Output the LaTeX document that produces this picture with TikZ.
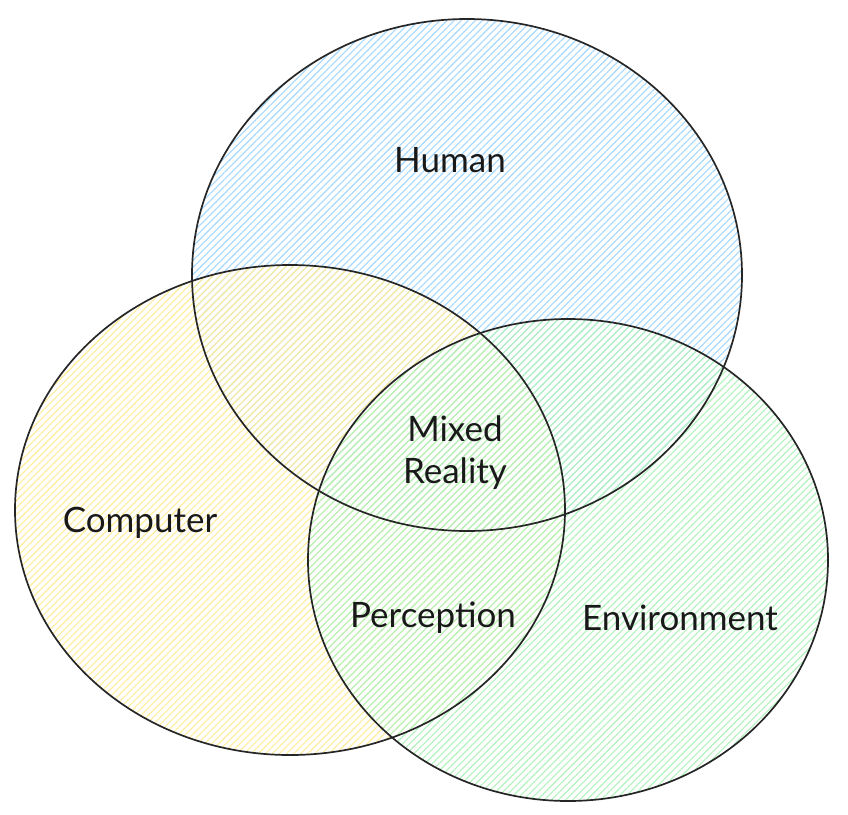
\documentclass[tikz,border=0pt]{standalone}
\usepackage{fontspec}
\setmainfont{Lato}
\usetikzlibrary{patterns.meta}

\definecolor{humanblue}{HTML}{A5D8FF}
\definecolor{compyellow}{HTML}{FFEC99}
\definecolor{envgreen}{HTML}{B2F2BB}

\tikzset{
  hachure/.style={pattern={Lines[angle=45,distance=5pt,line width=1.1pt]}, pattern color=#1},
  rim/.style={draw=black!85, line width=1.7pt},
  tag/.style={font=\fontsize{35}{42}\selectfont, text=black!90, align=center}
}

\begin{document}
\begin{tikzpicture}[x=1pt,y=-1pt]
\useasboundingbox (0,0) rectangle (848,814);
% fills first
\fill[hachure=humanblue] (467,275) ellipse [x radius=275, y radius=256];
\fill[hachure=compyellow] (290,510) ellipse [x radius=275, y radius=245];
\fill[hachure=envgreen] (568,560) ellipse [x radius=260, y radius=241];
% outlines
\draw[rim] (467,275) ellipse [x radius=275, y radius=256];
\draw[rim] (290,510) ellipse [x radius=275, y radius=245];
\draw[rim] (568,560) ellipse [x radius=260, y radius=241];
%\draw[rim] (468,274) ellipse [x radius=273, y radius=254];
\node[tag] (human) at (450,160) {Human};
\node[tag] (mixed) at (455,453) {Mixed\\Reality};
\node[tag] (computer) at (140,523) {Computer};
\node[tag] (perception) at (433,618) {Perception};
\node[tag] (environment) at (680,618) {Environment};
\end{tikzpicture}
\end{document}
